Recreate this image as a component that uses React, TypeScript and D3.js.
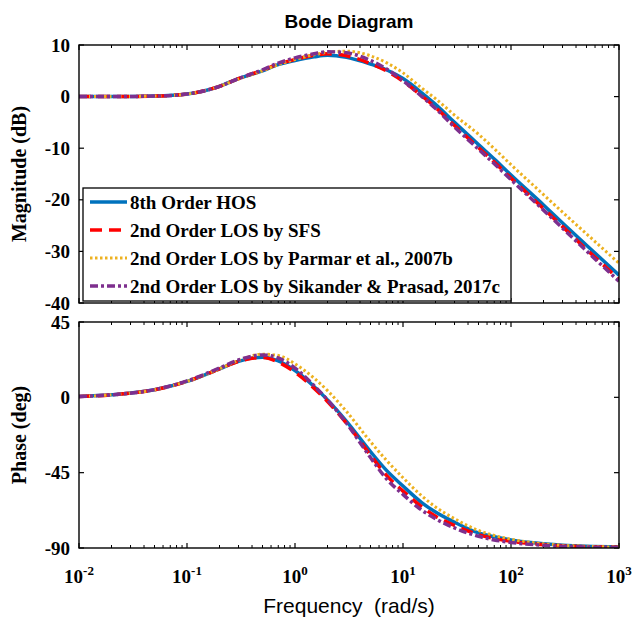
import * as d3 from "d3";

// frequency grid (rad/s) and readings from the picture
const freq = [0.01, 0.02, 0.05, 0.1, 0.2, 0.3, 0.5, 0.7, 1, 1.5, 2, 3, 5, 7, 10, 15, 20, 30, 50, 70, 100, 200, 300, 500, 1000];

const magHOS = [0, 0, 0.1, 0.5, 2.0, 3.5, 5.0, 6.2, 7.0, 7.7, 8.0, 7.6, 6.3, 5.2, 3.5, 0.7, -1.5, -5.0, -9.3, -12.1, -15.2, -21.0, -24.5, -28.8, -34.6];
const magSFS = [0, 0, 0.1, 0.5, 2.0, 3.5, 5.1, 6.3, 7.2, 8.0, 8.3, 7.9, 6.4, 5.0, 3.0, 0.1, -2.1, -5.6, -9.9, -12.7, -15.8, -21.7, -25.2, -29.6, -35.4];
const magParmar = [0, 0, 0.1, 0.5, 2.0, 3.4, 5.0, 6.2, 7.2, 8.1, 8.6, 8.8, 7.9, 6.6, 4.6, 1.6, -0.4, -3.6, -7.3, -10.1, -13.2, -19.0, -22.4, -26.6, -32.3];
const magSikander = [0, 0, 0.1, 0.5, 2.0, 3.5, 5.2, 6.5, 7.5, 8.3, 8.7, 8.5, 7.0, 5.4, 3.1, 0.0, -2.3, -5.9, -10.2, -13.0, -16.1, -22.0, -25.5, -29.9, -35.8];

const phHOS = [0.5, 1.5, 4.5, 9.5, 17.0, 21.5, 24.0, 21.8, 16.0, 6.5, -1.5, -14.3, -32.4, -43.5, -53.0, -63.0, -68.5, -74.6, -81.0, -83.3, -85.2, -87.5, -88.4, -89.0, -89.3];
const phSFS = [0.5, 1.5, 4.5, 9.5, 17.0, 21.5, 23.8, 21.0, 15.0, 5.5, -2.5, -15.5, -34.5, -46.5, -56.0, -65.5, -71.0, -76.5, -82.0, -84.3, -86.0, -88.0, -88.7, -89.2, -89.5];
const phParmar = [0.5, 1.5, 4.5, 9.5, 17.0, 22.0, 25.8, 25.0, 20.0, 11.5, 4.0, -8.5, -26.5, -37.5, -48.0, -59.0, -65.5, -72.5, -79.5, -82.5, -84.8, -87.5, -88.4, -89.0, -89.5];
const phSikander = [0.5, 1.5, 4.6, 9.8, 17.5, 22.3, 25.3, 23.5, 17.5, 7.0, -1.5, -15.5, -36.0, -48.5, -58.0, -67.5, -72.5, -78.0, -83.0, -85.2, -86.7, -88.4, -89.0, -89.4, -89.7];

const seriesNames = [
  "8th Order HOS",
  "2nd Order LOS by SFS",
  "2nd Order LOS by Parmar et al., 2007b",
  "2nd Order LOS by Sikander & Prasad, 2017c",
];

const magTicks = [10, 0, -10, -20, -30, -40];
const phaseTicks = [45, 0, -45, -90];
const decades = [-2, -1, 0, 1, 2, 3];

const W = 644;
const H = 621;
const left = 79;
const right = 619;
const magTop = 45;
const magBottom = 303;
const phTop = 322;
const phBottom = 548;

const styles = [
  { color: "#0072BD", width: 3.5, dash: "none" },
  { color: "#FF0000", width: 3.5, dash: "12,7" },
  { color: "#EDB120", width: 3, dash: "2.5,2.5" },
  { color: "#7E2F8E", width: 3.5, dash: "8,3,3,3" },
];

const serif = "'Liberation Serif', 'Times New Roman', serif";
const sans = "'Liberation Sans', Arial, sans-serif";

export default function App() {
  const x = d3.scaleLog().domain([1e-2, 1e3]).range([left, right]);
  const yMag = d3.scaleLinear().domain([-40, 10]).range([magBottom, magTop]);
  const yPh = d3.scaleLinear().domain([-90, 45]).range([phBottom, phTop]);

  const magSeries = [magHOS, magSFS, magParmar, magSikander];
  const phSeries = [phHOS, phSFS, phParmar, phSikander];

  const lineFor = (y: d3.ScaleLinear<number, number>) =>
    d3
      .line<number>()
      .x((_, i) => x(freq[i]))
      .y((d) => y(d))
      .curve(d3.curveMonotoneX);

  const minor: number[] = [];
  decades.slice(0, -1).forEach((d) => {
    for (let k = 2; k <= 9; k++) minor.push(k * Math.pow(10, d));
  });

  const frame = (top: number, bottom: number, y: d3.ScaleLinear<number, number>, ticks: number[]) => (
    <g>
      <rect x={left} y={top} width={right - left} height={bottom - top} fill="white" stroke="none" />
      {decades.map((d) => {
        const xv = x(Math.pow(10, d));
        return (
          <g key={"M" + d}>
            <line x1={xv} x2={xv} y1={top} y2={top + 5} stroke="#000" strokeWidth={1.2} />
            <line x1={xv} x2={xv} y1={bottom} y2={bottom - 5} stroke="#000" strokeWidth={1.2} />
          </g>
        );
      })}
      {minor.map((v, i) => (
        <g key={"m" + i}>
          <line x1={x(v)} x2={x(v)} y1={top} y2={top + 3} stroke="#000" strokeWidth={1} />
          <line x1={x(v)} x2={x(v)} y1={bottom} y2={bottom - 3} stroke="#000" strokeWidth={1} />
        </g>
      ))}
      {ticks.map((t) => (
        <g key={"y" + t}>
          <line x1={left} x2={left + 5} y1={y(t)} y2={y(t)} stroke="#000" strokeWidth={1.2} />
          <line x1={right} x2={right - 5} y1={y(t)} y2={y(t)} stroke="#000" strokeWidth={1.2} />
          <text x={70} y={y(t)} dy="0.35em" textAnchor="end" fontFamily={serif} fontWeight="bold" fontSize={19}>
            {t}
          </text>
        </g>
      ))}
    </g>
  );

  const curves = (series: number[][], y: d3.ScaleLinear<number, number>, clip: string) => {
    const gen = lineFor(y);
    return (
      <g clipPath={`url(#${clip})`}>
        {series.map((s, i) => (
          <path
            key={i}
            d={gen(s) || ""}
            fill="none"
            stroke={styles[i].color}
            strokeWidth={styles[i].width}
            strokeDasharray={styles[i].dash}
          />
        ))}
      </g>
    );
  };

  const legendX = 83;
  const legendY = 188;
  const legendW = 428;
  const rowH = 28;

  return (
    <svg width={W} height={H} style={{ position: "absolute", left: 0, top: 0, background: "white" }}>
      <defs>
        <clipPath id="clipMag">
          <rect x={left} y={magTop} width={right - left} height={magBottom - magTop} />
        </clipPath>
        <clipPath id="clipPh">
          <rect x={left} y={phTop} width={right - left} height={phBottom - phTop} />
        </clipPath>
      </defs>

      <text x={(left + right) / 2} y={28} textAnchor="middle" fontFamily={sans} fontWeight="bold" fontSize={19}>
        Bode Diagram
      </text>

      {frame(magTop, magBottom, yMag, magTicks)}
      {curves(magSeries, yMag, "clipMag")}
      {frame(phTop, phBottom, yPh, phaseTicks)}
      {curves(phSeries, yPh, "clipPh")}

      {/* legend */}
      <rect x={legendX} y={legendY} width={legendW} height={rowH * 4 + 1} fill="white" stroke="#000" strokeWidth={1.3} />
      {seriesNames.map((name, i) => {
        const cy = legendY + rowH / 2 + i * rowH;
        return (
          <g key={name}>
            <line
              x1={90}
              x2={127}
              y1={cy}
              y2={cy}
              stroke={styles[i].color}
              strokeWidth={styles[i].width}
              strokeDasharray={styles[i].dash}
            />
            <text x={130} y={cy} dy="0.35em" fontFamily={serif} fontWeight="bold" fontSize={19}>
              {name}
            </text>
          </g>
        );
      })}

      <rect x={left} y={magTop} width={right - left} height={magBottom - magTop} fill="none" stroke="#000" strokeWidth={1.4} />
      <rect x={left} y={phTop} width={right - left} height={phBottom - phTop} fill="none" stroke="#000" strokeWidth={1.4} />

      {/* x tick labels */}
      {decades.map((d) => (
        <text key={d} x={x(Math.pow(10, d))} y={583} textAnchor="middle" fontFamily={serif} fontWeight="bold" fontSize={19}>
          10
          <tspan dy={-8} fontSize={13}>
            {d}
          </tspan>
        </text>
      ))}

      <text x={(left + right) / 2} y={613} textAnchor="middle" fontFamily={sans} fontSize={21}>
        {"Frequency\u00a0\u00a0(rad/s)"}
      </text>
      <text
        transform={`translate(26,${(magTop + magBottom) / 2}) rotate(-90)`}
        textAnchor="middle"
        fontFamily={serif}
        fontWeight="bold"
        fontSize={20}
      >
        Magnitude (dB)
      </text>
      <text
        transform={`translate(26,${(phTop + phBottom) / 2}) rotate(-90)`}
        textAnchor="middle"
        fontFamily={serif}
        fontWeight="bold"
        fontSize={20}
      >
        Phase (deg)
      </text>
    </svg>
  );
}
